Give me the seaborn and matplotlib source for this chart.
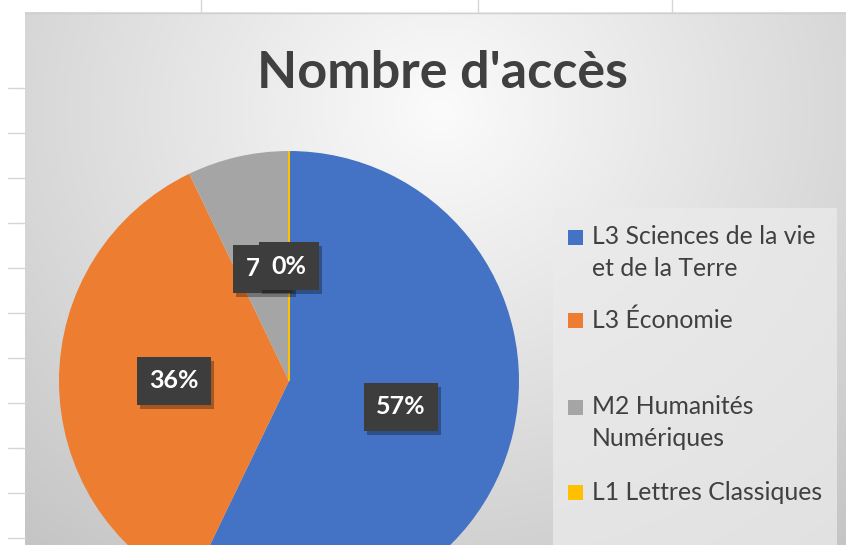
import numpy as np
import matplotlib
matplotlib.use("Agg")
import matplotlib.pyplot as plt
import matplotlib.patheffects as pe
from matplotlib.patches import Rectangle
import seaborn as sns

# ---- data ----
categories = ["L3 Sciences de la vie\net de la Terre", "L3 Économie",
              "M2 Humanités\nNumériques", "L1 Lettres Classiques"]
values = [8, 5, 1, 0]
colors = ["#4472C4", "#ED7D31", "#A5A5A5", "#FFC000"]
title = "Nombre d'accès"

sns.set_theme(style="white")
plt.rcParams['font.family'] = ['Lato', 'DejaVu Sans']
palette = sns.color_palette(colors)

W, H = 846, 545
fig = plt.figure(figsize=(W / 100, H / 100), dpi=100)
fig.patch.set_facecolor("white")

# overlay axes in pixel coordinates
bg = fig.add_axes([0, 0, 1, 1], zorder=0)
bg.set_xlim(0, W)
bg.set_ylim(H, 0)
bg.axis("off")

# spreadsheet grid remnants
for y in range(88, H, 45):
    bg.plot([8, 25], [y, y], color="#d6d6d6", lw=1)
for x in [201, 478, 672]:
    bg.plot([x, x], [0, 12], color="#d6d6d6", lw=1)

# chart area gradient
x0, y0 = 25, 12
yy, xx = np.mgrid[y0:H, x0:W]
d = np.sqrt(((xx - 440) / 1.05) ** 2 + ((yy - 110) / 0.95) ** 2)
g = np.clip(251 - 0.09 * d, 190, 251) / 255.0
img = np.dstack([g, g, g])
bg.imshow(img, extent=[x0, W, H, y0], interpolation="bilinear", zorder=1)
bg.plot([x0, W], [y0 + 0.5, y0 + 0.5], color="#cfcfcf", lw=1, zorder=2)

# legend box
bg.add_patch(Rectangle((553, 208), 284, H - 208, facecolor="#ebebeb",
                       edgecolor="none", alpha=0.75, zorder=2))

# title
bg.text(442, 73, title, ha="center", va="center", fontsize=37.5,
        fontweight="bold", color="#404040", zorder=3)

# legend entries (manual, Excel-like spacing)
legend_y = [237, 320, 407, 492]
for cat, col, ly in zip(categories, palette, legend_y):
    bg.add_patch(Rectangle((568, ly - 7), 15, 15, facecolor=col,
                           edgecolor="none", zorder=3))
    for i, line in enumerate(cat.split("\n")):
        bg.text(592, ly + i * 31, line, ha="left", va="center",
                fontsize=17.8, color="#404040", zorder=3)

# pie
cx, cy, r = 289, 381, 230
ax = fig.add_axes([(cx - r) / W, (H - cy - r) / H, 2 * r / W, 2 * r / H],
                  zorder=1)
ax.patch.set_alpha(0)
wedges, texts, autotexts = ax.pie(
    values, colors=palette, startangle=90, counterclock=False,
    radius=1, autopct=lambda p: f"{p:.0f}%", pctdistance=0.5,
    textprops=dict(color="white", fontsize=18, fontweight="black"),
    wedgeprops=dict(linewidth=0))
wedges[3].set_edgecolor(colors[3])
wedges[3].set_linewidth(1.5)
for i, t in enumerate(autotexts):
    t.set_zorder(5 + i)
    t.set_fontweight("bold")
    t.set_bbox(dict(boxstyle="square,pad=0.5", facecolor="#3d3d3d",
                    edgecolor="none"))
    t.get_bbox_patch().set_path_effects([
        pe.SimplePatchShadow(offset=(2, -3), shadow_rgbFace="black", alpha=0.3),
        pe.Normal()])
ax.set_xlim(-1, 1)
ax.set_ylim(-1, 1)
ax.set_aspect("equal")
ax.axis("off")

fig.savefig("out.png", dpi=100)
